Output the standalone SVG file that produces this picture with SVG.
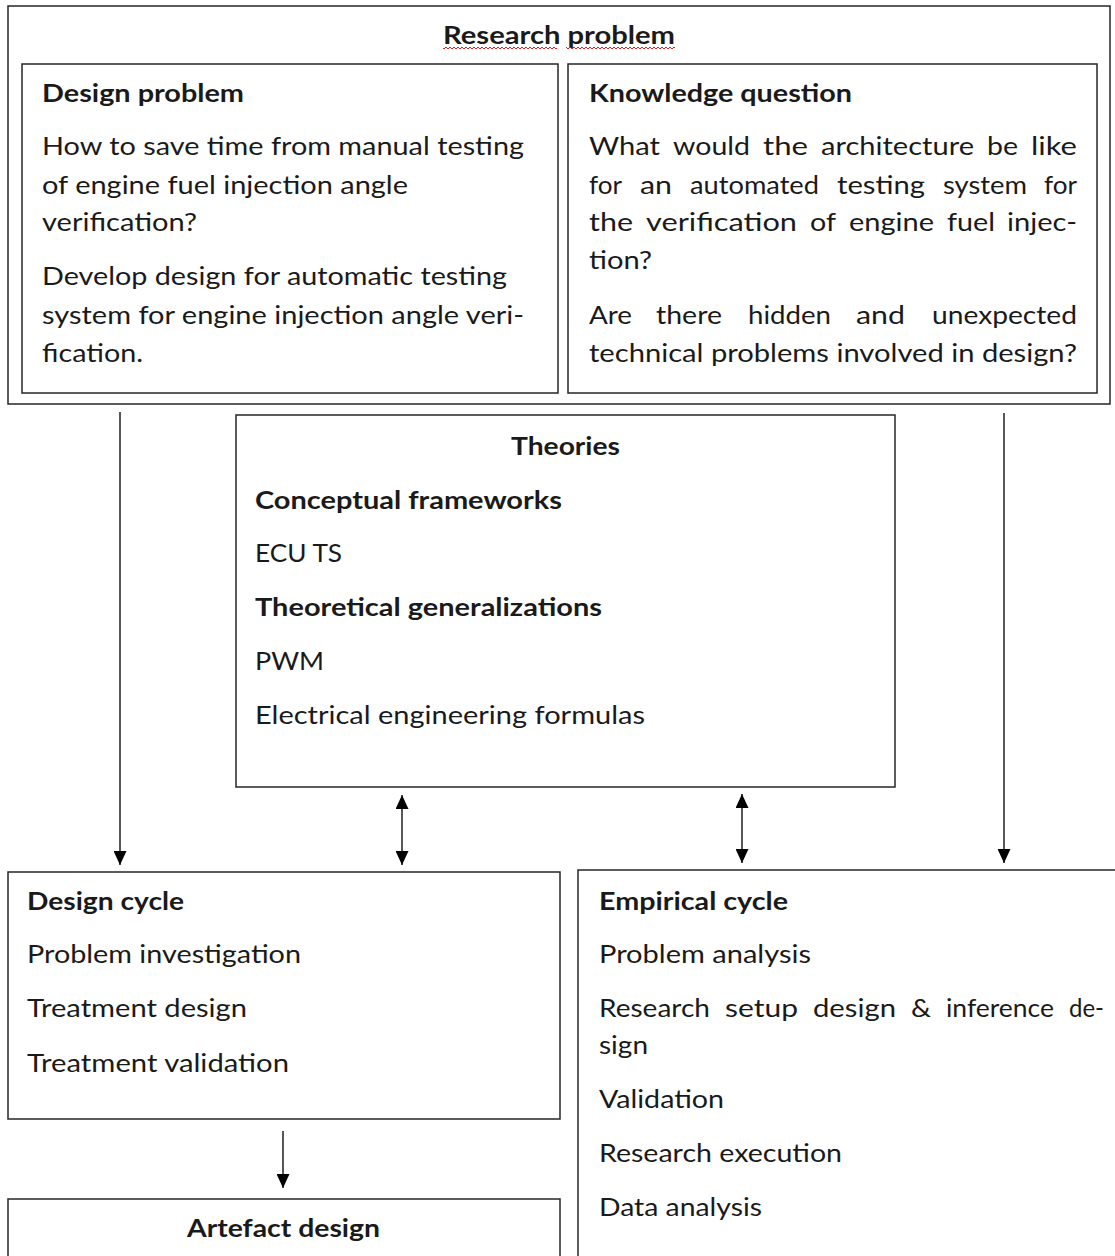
<svg xmlns="http://www.w3.org/2000/svg" width="1115" height="1256" viewBox="0 0 1115 1256">
<style>
.box{fill:#fff;stroke:#262626;stroke-width:1.5}
.t{font-family:Lato,"Open Sans","Liberation Sans",sans-serif;font-size:25px;fill:#1a1a1a}
.b{font-weight:bold}
.c{stroke:#111;stroke-width:1.4;fill:none}
</style>
<defs>
<marker id="ah" viewBox="0 0 14 13" refX="14" refY="6.5" markerWidth="14" markerHeight="13" markerUnits="userSpaceOnUse" orient="auto-start-reverse">
<path d="M0,0 L14,6.5 L0,13 z" fill="#000"/>
</marker>
<pattern id="squig" width="4" height="4" patternUnits="userSpaceOnUse" x="0" y="46">
<path d="M0,3 L2,1 L4,3" fill="none" stroke="#e02020" stroke-width="1"/>
</pattern>
</defs>

<g id="research-problem">
<rect class="box" x="8" y="6" width="1102" height="398"/>
<text class="t b" x="443" y="44" textLength="232" lengthAdjust="spacingAndGlyphs">Research problem</text>
<rect x="443" y="46" width="114" height="4" fill="url(#squig)"/>
<rect x="566" y="46" width="109" height="4" fill="url(#squig)"/>
</g>

<g id="design-problem">
<rect class="box" x="22" y="64" width="536" height="329"/>
<text class="t b" x="42" y="102" textLength="202" lengthAdjust="spacingAndGlyphs">Design problem</text>
<text class="t" x="42" y="155" textLength="482" lengthAdjust="spacingAndGlyphs">How to save time from manual testing</text>
<text class="t" x="42" y="194" textLength="366" lengthAdjust="spacingAndGlyphs">of engine fuel injection angle</text>
<text class="t" x="42" y="231" textLength="155" lengthAdjust="spacingAndGlyphs">verification?</text>
<text class="t" x="42" y="285" textLength="465" lengthAdjust="spacingAndGlyphs">Develop design for automatic testing</text>
<text class="t" x="42" y="324" textLength="482" lengthAdjust="spacingAndGlyphs">system for engine injection angle veri-</text>
<text class="t" x="42" y="362" textLength="101" lengthAdjust="spacingAndGlyphs">fication.</text>
</g>

<g id="knowledge-question">
<rect class="box" x="568" y="64" width="529" height="329"/>
<text class="t b" x="589" y="102" textLength="263" lengthAdjust="spacingAndGlyphs">Knowledge question</text>
<text class="t" y="155"><tspan x="589" textLength="71" lengthAdjust="spacingAndGlyphs">What</tspan><tspan x="673" textLength="77" lengthAdjust="spacingAndGlyphs">would</tspan><tspan x="763" textLength="45" lengthAdjust="spacingAndGlyphs">the</tspan><tspan x="821" textLength="153" lengthAdjust="spacingAndGlyphs">architecture</tspan><tspan x="987" textLength="31" lengthAdjust="spacingAndGlyphs">be</tspan><tspan x="1031" textLength="46" lengthAdjust="spacingAndGlyphs">like</tspan></text>
<text class="t" y="194"><tspan x="589" textLength="33" lengthAdjust="spacingAndGlyphs">for</tspan><tspan x="640" textLength="32" lengthAdjust="spacingAndGlyphs">an</tspan><tspan x="690" textLength="129" lengthAdjust="spacingAndGlyphs">automated</tspan><tspan x="837" textLength="88" lengthAdjust="spacingAndGlyphs">testing</tspan><tspan x="943" textLength="84" lengthAdjust="spacingAndGlyphs">system</tspan><tspan x="1044" textLength="33" lengthAdjust="spacingAndGlyphs">for</tspan></text>
<text class="t" y="231"><tspan x="589" textLength="44" lengthAdjust="spacingAndGlyphs">the</tspan><tspan x="646" textLength="151" lengthAdjust="spacingAndGlyphs">verification</tspan><tspan x="810" textLength="26" lengthAdjust="spacingAndGlyphs">of</tspan><tspan x="849" textLength="85" lengthAdjust="spacingAndGlyphs">engine</tspan><tspan x="947" textLength="48" lengthAdjust="spacingAndGlyphs">fuel</tspan><tspan x="1007" textLength="70" lengthAdjust="spacingAndGlyphs">injec-</tspan></text>
<text class="t" x="589" y="269" textLength="63" lengthAdjust="spacingAndGlyphs">tion?</text>
<text class="t" y="324"><tspan x="589" textLength="43" lengthAdjust="spacingAndGlyphs">Are</tspan><tspan x="656" textLength="66" lengthAdjust="spacingAndGlyphs">there</tspan><tspan x="748" textLength="83" lengthAdjust="spacingAndGlyphs">hidden</tspan><tspan x="856" textLength="49" lengthAdjust="spacingAndGlyphs">and</tspan><tspan x="932" textLength="145" lengthAdjust="spacingAndGlyphs">unexpected</tspan></text>
<text class="t" x="589" y="362" textLength="488" lengthAdjust="spacingAndGlyphs">technical problems involved in design?</text>
</g>

<g id="theories">
<rect class="box" x="236" y="415" width="659" height="372"/>
<text class="t b" x="511" y="455" textLength="109" lengthAdjust="spacingAndGlyphs">Theories</text>
<text class="t b" x="255" y="509" textLength="307" lengthAdjust="spacingAndGlyphs">Conceptual frameworks</text>
<text class="t" x="255" y="562" textLength="87" lengthAdjust="spacingAndGlyphs">ECU TS</text>
<text class="t b" x="255" y="616" textLength="347" lengthAdjust="spacingAndGlyphs">Theoretical generalizations</text>
<text class="t" x="255" y="670" textLength="69" lengthAdjust="spacingAndGlyphs">PWM</text>
<text class="t" x="255" y="724" textLength="390" lengthAdjust="spacingAndGlyphs">Electrical engineering formulas</text>
</g>

<g id="design-cycle">
<rect class="box" x="8" y="872" width="552" height="247"/>
<text class="t b" x="27" y="910" textLength="157" lengthAdjust="spacingAndGlyphs">Design cycle</text>
<text class="t" x="27" y="963" textLength="274" lengthAdjust="spacingAndGlyphs">Problem investigation</text>
<text class="t" x="27" y="1017" textLength="220" lengthAdjust="spacingAndGlyphs">Treatment design</text>
<text class="t" x="27" y="1072" textLength="262" lengthAdjust="spacingAndGlyphs">Treatment validation</text>
</g>

<g id="empirical-cycle">
<rect class="box" x="578" y="870" width="560" height="420"/>
<text class="t b" x="599" y="910" textLength="189" lengthAdjust="spacingAndGlyphs">Empirical cycle</text>
<text class="t" x="599" y="963" textLength="212" lengthAdjust="spacingAndGlyphs">Problem analysis</text>
<text class="t" y="1017"><tspan x="599" textLength="111" lengthAdjust="spacingAndGlyphs">Research</tspan><tspan x="725" textLength="73" lengthAdjust="spacingAndGlyphs">setup</tspan><tspan x="813" textLength="83" lengthAdjust="spacingAndGlyphs">design</tspan><tspan x="911" textLength="20" lengthAdjust="spacingAndGlyphs">&amp;</tspan><tspan x="946" textLength="108" lengthAdjust="spacingAndGlyphs">inference</tspan><tspan x="1069" textLength="35" lengthAdjust="spacingAndGlyphs">de-</tspan></text>
<text class="t" x="599" y="1054" textLength="49" lengthAdjust="spacingAndGlyphs">sign</text>
<text class="t" x="599" y="1108" textLength="125" lengthAdjust="spacingAndGlyphs">Validation</text>
<text class="t" x="599" y="1162" textLength="243" lengthAdjust="spacingAndGlyphs">Research execution</text>
<text class="t" x="599" y="1216" textLength="163" lengthAdjust="spacingAndGlyphs">Data analysis</text>
</g>

<g id="artefact-design">
<rect class="box" x="8" y="1199" width="552" height="90"/>
<text class="t b" x="187" y="1237" textLength="193" lengthAdjust="spacingAndGlyphs">Artefact design</text>
</g>

<g id="connectors">
<line class="c" x1="120" y1="412" x2="120" y2="865" marker-end="url(#ah)"/>
<line class="c" x1="1004" y1="413" x2="1004" y2="863" marker-end="url(#ah)"/>
<line class="c" x1="402" y1="795" x2="402" y2="865" marker-start="url(#ah)" marker-end="url(#ah)"/>
<line class="c" x1="742" y1="794" x2="742" y2="863" marker-start="url(#ah)" marker-end="url(#ah)"/>
<line class="c" x1="283" y1="1131" x2="283" y2="1188" marker-end="url(#ah)"/>
</g>
</svg>
